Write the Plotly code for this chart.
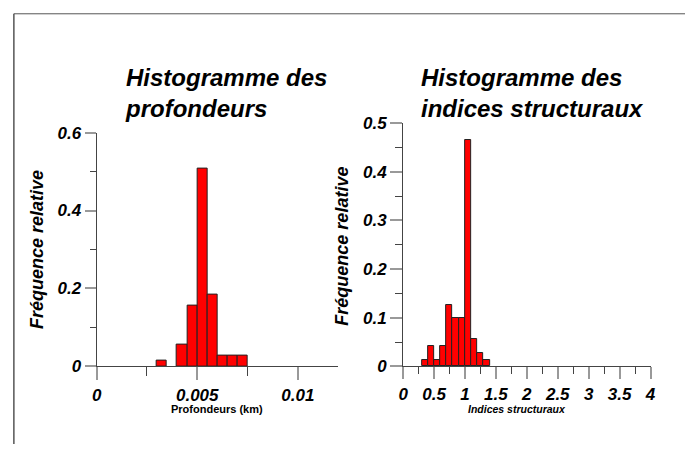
import plotly.graph_objects as go

# ---- data ----
prof_bin_start = [0.0030, 0.0040, 0.0045, 0.0050, 0.0055, 0.0060, 0.0065, 0.0070]
prof_freq = [0.0141, 0.0563, 0.155, 0.507, 0.183, 0.0282, 0.0282, 0.0282]
prof_bin_width = 0.0005

ind_bin_start = [0.3, 0.4, 0.5, 0.6, 0.7, 0.8, 0.9, 1.0, 1.1, 1.2, 1.3]
ind_freq = [0.0141, 0.0423, 0.0141, 0.0423, 0.127, 0.0986, 0.0986, 0.465, 0.0563, 0.0282, 0.0141]
ind_bin_width = 0.1

prof_xticks = [0, 0.005, 0.01]
prof_xticklabels = ["0", "0.005", "0.01"]
prof_yticks = [0, 0.2, 0.4, 0.6]
prof_yticklabels = ["0", "0.2", "0.4", "0.6"]
ind_xticks = [0, 0.5, 1, 1.5, 2, 2.5, 3, 3.5, 4]
ind_xticklabels = ["0", "0.5", "1", "1.5", "2", "2.5", "3", "3.5", "4"]
ind_yticks = [0, 0.1, 0.2, 0.3, 0.4, 0.5]
ind_yticklabels = ["0", "0.1", "0.2", "0.3", "0.4", "0.5"]

W, H = 690, 454
FONT = "Liberation Sans, Arial, sans-serif"

def px(x):
    return x / W

def py(y):
    return 1 - y / H

fig = go.Figure()

bar_style = dict(marker=dict(color="#FF0000", line=dict(color="#222222", width=1)), offset=0)
fig.add_trace(go.Bar(x=prof_bin_start, y=prof_freq, width=prof_bin_width,
                     xaxis="x", yaxis="y", showlegend=False, **bar_style))
fig.add_trace(go.Bar(x=ind_bin_start, y=ind_freq, width=ind_bin_width,
                     xaxis="x2", yaxis="y2", showlegend=False, **bar_style))

tickfont = dict(family=FONT, size=17, color="black", weight="bold", style="italic")
axis_common = dict(showline=True, linecolor="#444444", linewidth=1, ticks="outside",
                   tickcolor="#999999", tickwidth=2, showgrid=False, zeroline=False,
                   tickfont=tickfont, fixedrange=True)

fig.update_layout(
    width=W, height=H,
    margin=dict(l=0, r=0, t=0, b=0),
    paper_bgcolor="white", plot_bgcolor="white",
    bargap=0,
    xaxis=dict(domain=[px(93), px(338)], range=[0, 0.012], anchor="y",
               tickvals=prof_xticks, ticktext=prof_xticklabels, ticklen=13,
               minor=dict(tickvals=[0.0025, 0.0075], ticklen=9, tickcolor="#444444", tickwidth=1, ticks="outside"),
               **axis_common),
    yaxis=dict(domain=[py(373), py(129)], range=[0, 0.6], anchor="x",
               tickvals=prof_yticks, ticktext=prof_yticklabels, ticklen=11,
               minor=dict(tickvals=[0.1, 0.3, 0.5], ticklen=6, tickcolor="#444444", tickwidth=1, ticks="outside"),
               **axis_common),
    xaxis2=dict(domain=[px(404), px(655)], range=[0, 4], anchor="y2",
                tickvals=ind_xticks, ticktext=ind_xticklabels, ticklen=12,
                minor=dict(tickvals=[0.25, 0.75, 1.25, 1.75, 2.25, 2.75, 3.25, 3.75], ticklen=7,
                           tickcolor="#444444", tickwidth=1, ticks="outside"),
                **axis_common),
    yaxis2=dict(domain=[py(373), py(119)], range=[0, 0.5], anchor="x2",
                tickvals=ind_yticks, ticktext=ind_yticklabels, ticklen=12,
                minor=dict(tickvals=[0.05, 0.15, 0.25, 0.35, 0.45], ticklen=7,
                           tickcolor="#444444", tickwidth=1, ticks="outside"),
                **axis_common),
)

title_font = dict(family=FONT, size=24, color="black", weight="bold", style="italic")
ytitle_font = dict(family=FONT, size=18, color="black", weight="bold", style="italic")

annotations = [
    dict(text="Histogramme des<br>profondeurs", x=px(121), y=py(88), xanchor="left", yanchor="middle",
         align="left", font=title_font, borderpad=0),
    dict(text="Histogramme des<br>indices structuraux", x=px(421), y=py(88), xanchor="left", yanchor="middle",
         align="left", font=title_font, borderpad=0),
    dict(text="Fréquence relative", x=px(33), y=py(251), textangle=-90, xanchor="center", yanchor="middle",
         font=ytitle_font),
    dict(text="Fréquence relative", x=px(342), y=py(248), textangle=-90, xanchor="center", yanchor="middle",
         font=ytitle_font),
    dict(text="Profondeurs (km)", x=px(215), y=py(417), xanchor="center", yanchor="middle",
         font=dict(family=FONT, size=11, color="black", weight="bold")),
    dict(text="Indices structuraux", x=px(520), y=py(417), xanchor="center", yanchor="middle",
         font=dict(family=FONT, size=10.5, color="black", weight="bold", style="italic")),
]
for a in annotations:
    a.update(xref="paper", yref="paper", showarrow=False)
fig.update_layout(annotations=annotations)

fig.update_layout(shapes=[
    dict(type="line", xref="paper", yref="paper", x0=px(9), x1=1, y0=py(5), y1=py(5),
         line=dict(color="#555555", width=1)),
    dict(type="line", xref="paper", yref="paper", x0=px(9), x1=px(9), y0=py(5), y1=0,
         line=dict(color="#555555", width=1.5)),
])

fig.write_html("out.html")
